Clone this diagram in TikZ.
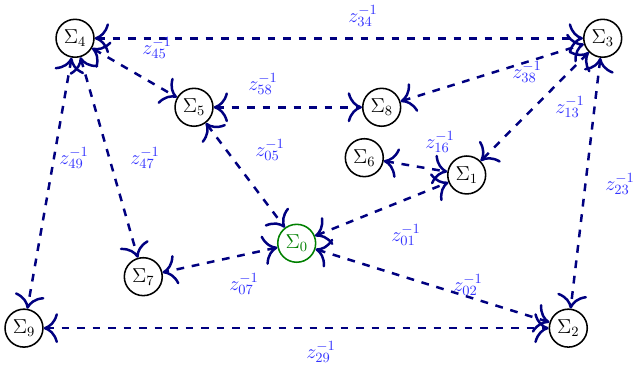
\documentclass[tikz,border=0pt]{standalone}
\usepackage{fix-cm}
\usetikzlibrary{arrows.meta}
\definecolor{navyline}{RGB}{0,0,128}
\definecolor{lblblue}{RGB}{51,51,255}
\definecolor{sysgreen}{RGB}{0,128,0}
\begin{document}
\begin{tikzpicture}[
		font=\fontsize{13}{16}\selectfont,
		sys/.style={circle, draw, line width=1pt, minimum size=0.86cm, inner sep=0pt},
		link/.style={{Computer Modern Rightarrow[scale=1.8]}-{Computer Modern Rightarrow[scale=1.8]}, navyline, line width=1.6pt, dash pattern=on 5pt off 5pt},
		lbl/.style={lblblue}]
	\useasboundingbox (0,0) rectangle (14.422,8.458);
	\node[sys] (s4) at (1.701,7.590) {$\Sigma_4$};
	\node[sys] (s3) at (13.667,7.590) {$\Sigma_3$};
	\node[sys] (s5) at (4.399,6.025) {$\Sigma_5$};
	\node[sys] (s8) at (8.655,6.025) {$\Sigma_8$};
	\node[sys] (s6) at (8.261,4.882) {$\Sigma_6$};
	\node[sys] (s1) at (10.583,4.490) {$\Sigma_1$};
	\node[sys, draw=sysgreen, text=sysgreen] (s0) at (6.728,2.941) {$\Sigma_0$};
	\node[sys] (s7) at (3.249,2.184) {$\Sigma_7$};
	\node[sys] (s9) at (0.544,1.017) {$\Sigma_9$};
	\node[sys] (s2) at (12.887,1.017) {$\Sigma_2$};
	\draw[link] (s4) -- (s3);
	\draw[link] (s4) -- (s5);
	\draw[link] (s5) -- (s8);
	\draw[link] (s8) -- (s3);
	\draw[link] (s3) -- (s1);
	\draw[link] (s6) -- (s1);
	\draw[link] (s5) -- (s0);
	\draw[link] (s4) -- (s7);
	\draw[link] (s4) -- (s9);
	\draw[link] (s0) -- (s7);
	\draw[link] (s0) -- (s1);
	\draw[link] (s0) -- (s2);
	\draw[link] (s3) -- (s2);
	\draw[link] (s9) -- (s2);
	\node[lbl] (l34) at (8.231,8.095) {$z^{-1}_{34}$};
	\node[lbl] (l45) at (3.560,7.370) {$z^{-1}_{45}$};
	\node[lbl] (l58) at (5.964,6.553) {$z^{-1}_{58}$};
	\node[lbl] (l38) at (11.950,6.825) {$z^{-1}_{38}$};
	\node[lbl] (l13) at (12.925,6.032) {$z^{-1}_{13}$};
	\node[lbl] (l16) at (9.977,5.238) {$z^{-1}_{16}$};
	\node[lbl] (l05) at (6.122,5.057) {$z^{-1}_{05}$};
	\node[lbl] (l47) at (3.288,4.875) {$z^{-1}_{47}$};
	\node[lbl] (l49) at (1.678,4.875) {$z^{-1}_{49}$};
	\node[lbl] (l07) at (5.533,2.018) {$z^{-1}_{07}$};
	\node[lbl] (l01) at (9.206,3.129) {$z^{-1}_{01}$};
	\node[lbl] (l02) at (10.612,1.995) {$z^{-1}_{02}$};
	\node[lbl] (l23) at (14.059,4.286) {$z^{-1}_{23}$};
	\node[lbl] (l29) at (7.279,0.476) {$z^{-1}_{29}$};
\end{tikzpicture}
\end{document}
